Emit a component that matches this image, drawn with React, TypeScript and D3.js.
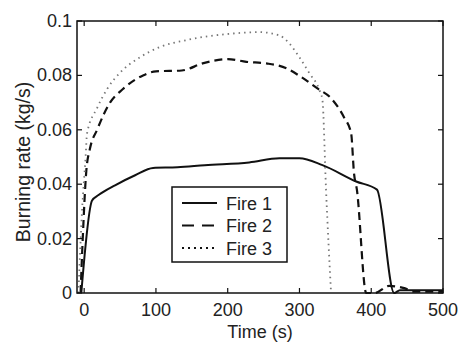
import React, { useEffect, useRef } from 'react';
import * as d3 from 'd3';

// time (s), burning rate (kg/s)
const fire1T = [-4, 11, 20, 43, 71, 96, 130, 168, 230, 272, 300, 332, 379, 408, 432, 440, 500];
const fire1V = [0, 0.034, 0.036, 0.0396, 0.0433, 0.046, 0.0462, 0.047, 0.048, 0.0495, 0.0495, 0.047, 0.041, 0.038, 0, 0.001, 0.001];

const fire2T = [-5, -2, 3, 8, 18, 36, 54, 82, 100, 136, 165, 200, 226, 254, 282, 303, 325, 344, 362, 372, 376, 380, 393, 405, 425, 446, 460, 500];
const fire2V = [0, 0.02, 0.045, 0.053, 0.06, 0.07, 0.075, 0.08, 0.0815, 0.0818, 0.0844, 0.086, 0.085, 0.0844, 0.0826, 0.0793, 0.0752, 0.0716, 0.0646, 0.0587, 0.044, 0.038, 0, 0, 0.0026, 0.0018, 0.0005, 0.0005];

const fire3T = [-8, -3, 2, 4, 18, 32, 50, 78, 105, 143, 203, 244, 272, 286, 300, 314, 328, 332, 337, 344];
const fire3V = [0, 0.03, 0.05, 0.0587, 0.068, 0.075, 0.081, 0.0867, 0.0904, 0.093, 0.0953, 0.0959, 0.0947, 0.0917, 0.0866, 0.0807, 0.0745, 0.071, 0.038, 0];

const xTicks = [0, 100, 200, 300, 400, 500];
const yTicks = [0, 0.02, 0.04, 0.06, 0.08, 0.1];
const legendLabels = ['Fire 1', 'Fire 2', 'Fire 3'];

const font = '"Liberation Sans", Arial, sans-serif';

const App = () => {
  const svgRef = useRef<SVGSVGElement>(null);

  useEffect(() => {
    const svg = d3.select(svgRef.current);
    svg.selectAll('*').remove();

    const left = 77, right = 443, top = 21, bottom = 293;
    const x = d3.scaleLinear().domain([-10, 500]).range([left, right]);
    const y = d3.scaleLinear().domain([0, 0.1]).range([bottom, top]);

    const line = d3.line<[number, number]>()
      .x(d => x(d[0]))
      .y(d => y(d[1]))
      .curve(d3.curveMonotoneX);

    const series = [
      { t: fire1T, v: fire1V, dash: null, width: 2, color: '#111' },
      { t: fire2T, v: fire2V, dash: '8,5', width: 2.2, color: '#111' },
      { t: fire3T, v: fire3V, dash: '1.5,4', width: 1.8, color: '#777' },
    ];

    const plot = svg.append('g');
    series.forEach(s => {
      plot.append('path')
        .datum(s.t.map((t, i) => [t, s.v[i]] as [number, number]))
        .attr('fill', 'none')
        .attr('stroke', s.color)
        .attr('stroke-width', s.width)
        .attr('stroke-dasharray', s.dash)
        .attr('stroke-linejoin', 'round')
        .attr('d', line);
    });

    // box
    svg.append('rect')
      .attr('x', left).attr('y', top)
      .attr('width', right - left).attr('height', bottom - top)
      .attr('fill', 'none').attr('stroke', '#111').attr('stroke-width', 1.5);

    const tl = 5;
    xTicks.forEach(t => {
      svg.append('line').attr('x1', x(t)).attr('x2', x(t)).attr('y1', bottom).attr('y2', bottom - tl)
        .attr('stroke', '#111').attr('stroke-width', 1.2);
      svg.append('line').attr('x1', x(t)).attr('x2', x(t)).attr('y1', top).attr('y2', top + tl)
        .attr('stroke', '#111').attr('stroke-width', 1.2);
      svg.append('text').attr('x', x(t)).attr('y', bottom + 23)
        .attr('text-anchor', 'middle').attr('font-family', font).attr('font-size', 18)
        .attr('fill', '#222').text(d3.format('d')(t));
    });
    yTicks.forEach(v => {
      svg.append('line').attr('x1', left).attr('x2', left + tl).attr('y1', y(v)).attr('y2', y(v))
        .attr('stroke', '#111').attr('stroke-width', 1.2);
      svg.append('line').attr('x1', right).attr('x2', right - tl).attr('y1', y(v)).attr('y2', y(v))
        .attr('stroke', '#111').attr('stroke-width', 1.2);
      svg.append('text').attr('x', left - 5).attr('y', y(v) + 6)
        .attr('text-anchor', 'end').attr('font-family', font).attr('font-size', 18)
        .attr('fill', '#222').text(v === 0 ? '0' : String(v));
    });

    svg.append('text')
      .attr('x', 260).attr('y', 338)
      .attr('text-anchor', 'middle').attr('font-family', font).attr('font-size', 18)
      .attr('fill', '#222').text('Time (s)');

    svg.append('text')
      .attr('transform', `translate(30,${(top + bottom) / 2 + 5}) rotate(-90)`)
      .attr('text-anchor', 'middle').attr('font-family', font).attr('font-size', 19.5)
      .attr('fill', '#222').text('Burning rate (kg/s)');

    // legend
    const lg = svg.append('g');
    lg.append('rect').attr('x', 172).attr('y', 187).attr('width', 115).attr('height', 75)
      .attr('fill', '#fff').attr('stroke', '#111').attr('stroke-width', 1.5);
    const legendDash = [null, '12,8', '2,4'];
    legendLabels.forEach((lab, i) => {
      const cy = 203 + i * 22.5;
      lg.append('line').attr('x1', 182).attr('x2', 217).attr('y1', cy).attr('y2', cy)
        .attr('stroke', '#111').attr('stroke-width', 2.2)
        .attr('stroke-dasharray', legendDash[i]);
      lg.append('text').attr('x', 226).attr('y', cy + 6.5)
        .attr('font-family', font).attr('font-size', 18).attr('fill', '#222').text(lab);
    });
  }, []);

  return (
    <svg ref={svgRef} width={460} height={349} style={{ position: 'absolute', left: 0, top: 0, background: '#fff' }} />
  );
};

export default App;
